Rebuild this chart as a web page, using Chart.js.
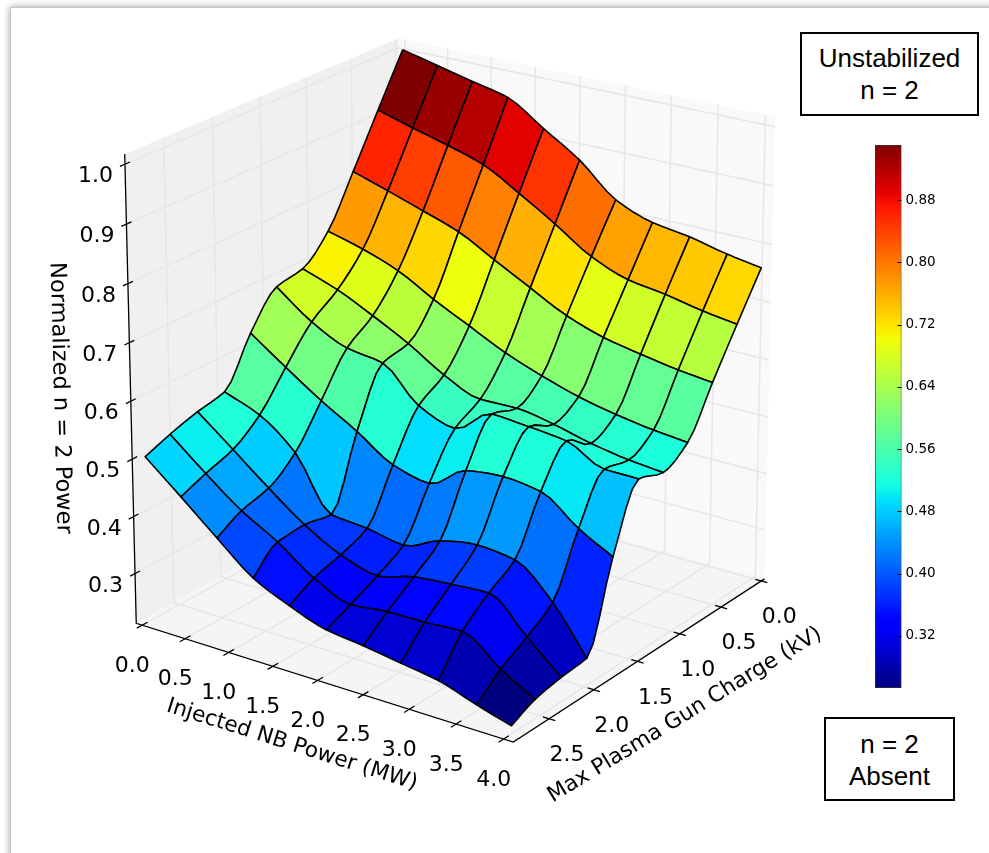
<!DOCTYPE html>
<html><head><meta charset="utf-8">
<script src="https://cdn.jsdelivr.net/npm/chart.js@4"></script>
<style>
html,body{margin:0;padding:0;background:#fff;width:989px;height:853px;overflow:hidden}
#frame{position:absolute;left:10px;top:7px;width:1000px;height:900px;background:#fff;border:1px solid #c4c4c4;box-shadow:0 0 7px rgba(0,0,0,.38)}
canvas{position:absolute;top:0}
#main{left:0}
#bar{left:875px}
.box{position:absolute;box-sizing:border-box;border:2px solid #000;background:#fff;font:26px/32px "Liberation Sans",sans-serif;color:#000;text-align:center}
</style></head><body>
<div id="frame"></div>
<canvas id="main" width="989" height="853"></canvas>
<canvas id="bar" width="114" height="853"></canvas>
<div class="box" style="left:800px;top:32px;width:179px;height:84px;padding-top:8px">Unstabilized<br>n = 2</div>
<div class="box" style="left:824px;top:717px;width:131px;height:84px;padding-top:9px">n = 2<br>Absent</div>
<script>
// ---- data ----
const nbPower = [0.025,0.430,0.835,1.240,1.644,2.049,2.454,2.859,3.264,3.669,4.033];
const gunCharge = [0.009,0.295,0.581,0.867,1.153,1.439,1.725,2.011,2.297,2.584,2.841];
const row0  = [1.003,.988,.973,.958,.917,.876,.821,.796,.786,.771,.761];
const row1  = [.915,.897,.880,.860,.824,.785,.743,.718,.708,.695,.686];
const row2  = [.826,.806,.785,.763,.729,.695,.662,.640,.627,.616,.609];
const row3  = [.741,.724,.701,.666,.635,.604,.580,.560,.546,.536,.530];
const row4  = [.696,.674,.644,.611,.572,.546,.547,.536,.520,.509,.503];
const row5  = [.686,.640,.610,.600,.542,.519,.561,.556,.549,.518,.517];
const row6  = [.627,.583,.541,.504,.463,.448,.488,.495,.487,.442,.410];
const row7  = [.547,.523,.474,.383,.377,.366,.392,.403,.396,.342,.264];
const row8  = [.536,.487,.437,.391,.357,.339,.356,.362,.366,.310,.259];
const row9  = [.521,.470,.423,.387,.343,.316,.323,.324,.328,.283,.250];
const row10 = [.504,.452,.399,.348,.319,.297,.289,.279,.269,.248,.231];
const xTicks = [0,0.5,1,1.5,2,2.5,3,3.5,4];
const yTicks = [0,0.5,1,1.5,2,2.5];
const zTicks = [0.3,0.4,0.5,0.6,0.7,0.8,0.9,1.0];
const barTicks = [0.32,0.40,0.48,0.56,0.64,0.72,0.80,0.88];
const xLabel = "Injected NB Power (MW)";
const yLabel = "Max Plasma Gun Charge (kV)";
const zLabel = "Normalized n = 2 Power";

// ---- 3D view ----
const Z = [row0,row1,row2,row3,row4,row5,row6,row7,row8,row9,row10];
const xa=-0.07,xb=4.1,ya=-0.04,yb=2.89,za=0.212,zb=1.017;
const P=[76.675410,-93.020960,-18.101115,403.69642,16.551130,34.204511,-543.81684,592.45451,-0.013068516,-0.024348344,-0.039128002];
const depth=(x,y,z)=>P[8]*x+P[9]*y+P[10]*z+1;
function proj(x,y,z){const w=depth(x,y,z);return{x:(P[0]*x+P[1]*y+P[2]*z+P[3])/w,y:(P[4]*x+P[5]*y+P[6]*z+P[7])/w};}

function jet(t){t=Math.max(0,Math.min(1,t));
 const seg=(s)=>{for(let i=1;i<s.length;i++)if(t<=s[i][0]){const a=s[i-1],b=s[i];return a[1]+(b[1]-a[1])*(t-a[0])/(b[0]-a[0]);}return s[s.length-1][1];};
 const r=seg([[0,0],[.35,0],[.66,1],[.89,1],[1,.5]]),g=seg([[0,0],[.125,0],[.375,1],[.64,1],[.91,0],[1,0]]),b=seg([[0,.5],[.11,1],[.34,1],[.65,0],[1,0]]);
 return `rgb(${Math.round(r*255)},${Math.round(g*255)},${Math.round(b*255)})`;}

// edge drawing: monotone tension on the height between grid knots
const SUB=4;
function tang(a,k){const n=a.length-1;if(k===0)return a[1]-a[0];if(k===n)return a[n]-a[n-1];
  const d0=a[k]-a[k-1],d1=a[k+1]-a[k];return d0*d1<=0?0:2*d0*d1/(d0+d1);}
function herm(a,k,t){const m0=tang(a,k),m1=tang(a,k+1),t2=t*t,t3=t2*t;return (2*t3-3*t2+1)*a[k]+(t3-2*t2+t)*m0+(-2*t3+3*t2)*a[k+1]+(t3-t2)*m1;}
const colOf=i=>Z.map(r=>r[i]);
function rowEdge(j,i0,i1){const out=[],k=Math.min(i0,i1);for(let s=0;s<SUB;s++){const t=i1>i0?s/SUB:1-s/SUB;
  out.push(proj(nbPower[k]+(nbPower[k+1]-nbPower[k])*t,gunCharge[j],herm(Z[j],k,t)));}return out;}
function colEdge(i,j0,j1){const out=[],k=Math.min(j0,j1),c=colOf(i);for(let s=0;s<SUB;s++){const t=j1>j0?s/SUB:1-s/SUB;
  out.push(proj(nbPower[i],gunCharge[k]+(gunCharge[k+1]-gunCharge[k])*t,herm(c,k,t)));}return out;}

const layers=[];
function poly(pts,fill){layers.push({data:pts,fill:'shape',backgroundColor:fill,borderColor:fill,borderWidth:0,pointRadius:0,tension:0});}
function line(pts,color,w){layers.push({data:pts,fill:false,borderColor:color,borderWidth:w,pointRadius:0,tension:0,borderCapStyle:'butt'});}
const P3=a=>a.map(p=>proj(p[0],p[1],p[2]));
// walls and floor
poly(P3([[xa,ya,za],[xa,yb,za],[xa,yb,zb],[xa,ya,zb],[xa,ya,za]]),'rgb(240,240,240)');
poly(P3([[xa,ya,za],[xb,ya,za],[xb,ya,zb],[xa,ya,zb],[xa,ya,za]]),'rgb(249,249,249)');
poly(P3([[xa,ya,za],[xb,ya,za],[xb,yb,za],[xa,yb,za],[xa,ya,za]]),'rgb(245,245,245)');
// grid
const GC='rgb(230,230,230)',GW=1.5;
xTicks.forEach(t=>{line(P3([[t,yb,za],[t,ya,za],[t,ya,zb]]),GC,GW);});
yTicks.forEach(t=>{line(P3([[xb,t,za],[xa,t,za],[xa,t,zb]]),GC,GW);});
zTicks.forEach(t=>{line(P3([[xa,yb,t],[xa,ya,t],[xb,ya,t]]),GC,GW);});
// axes
line(P3([[xa,yb,zb],[xa,yb,za],[xb,yb,za],[xb,ya,za]]),'#000',1.3);
xTicks.forEach(t=>line(P3([[t,yb+.055,za],[t,yb-.055,za]]),'#000',1.3));
yTicks.forEach(t=>line(P3([[xb+.065,t,za],[xb-.065,t,za]]),'#000',1.3));
zTicks.forEach(t=>line(P3([[xa,yb+.05,t],[xa,yb-.05,t]]),'#000',1.3));
// surface cells, far to near
const cells=[];let vmin=9,vmax=-9;
for(let j=0;j<10;j++)for(let i=0;i<10;i++){
  const avg=(Z[j][i]+Z[j][i+1]+Z[j+1][i]+Z[j+1][i+1])/4;vmin=Math.min(vmin,avg);vmax=Math.max(vmax,avg);
  const d=depth((nbPower[i]+nbPower[i+1])/2,(gunCharge[j]+gunCharge[j+1])/2,avg);cells.push({i,j,avg,d});}
cells.sort((a,b)=>b.d-a.d);
cells.forEach(c=>{const {i,j}=c;
  const pts=[...rowEdge(j,i,i+1),...colEdge(i+1,j,j+1),...rowEdge(j+1,i+1,i),...colEdge(i,j+1,j)];pts.push(pts[0]);
  const col=jet((c.avg-vmin)/(vmax-vmin));
  layers.push({data:pts,fill:'shape',backgroundColor:col,borderColor:'#000',borderWidth:1.6,borderJoinStyle:'round',pointRadius:0,tension:0});});

const texts={id:'texts',afterDraw(ch){const c=ch.ctx,sx=ch.scales.x,sy=ch.scales.y;c.save();c.fillStyle='#000';c.textAlign='center';c.textBaseline='middle';
  const at=(p,dx,dy)=>[sx.getPixelForValue(p.x)+dx,sy.getPixelForValue(p.y)+dy];
  c.font='22px "DejaVu Sans"';
  xTicks.forEach(t=>{const [u,v]=at(proj(t,yb,za),-10,41);c.fillText(t.toFixed(1),u,v);});
  yTicks.forEach(t=>{const [u,v]=at(proj(xb,t,za),18,36.5);c.fillText(t.toFixed(1),u,v);});
  zTicks.forEach(t=>{const [u,v]=at(proj(xa,yb,t),-29.5,12.5);c.fillText(t.toFixed(1),u,v);});
  const rot=(s,x,y,deg,sz)=>{c.save();c.font=sz+'px "DejaVu Sans"';c.translate(x,y);c.rotate(deg*Math.PI/180);c.fillText(s,0,0);c.restore();};
  rot(xLabel,292,745,17.5,21.7);rot(yLabel,685,715,-31.5,21.7);rot(zLabel,60,398,88.5,22.5);
  c.restore();}};

new Chart(document.getElementById('main'),{type:'line',data:{datasets:layers.slice().reverse()},
 options:{responsive:false,animation:false,events:[],parsing:{xAxisKey:'x',yAxisKey:'y'},layout:{padding:0},
  scales:{x:{type:'linear',min:0,max:989,display:false},y:{type:'linear',min:0,max:853,reverse:true,display:false}},
  plugins:{legend:{display:false},tooltip:{enabled:false},title:{display:false},filler:{propagate:false,drawTime:'beforeDatasetDraw'}},
  datasets:{line:{clip:false,spanGaps:true}}},plugins:[texts]});

// colour bar
const inward={id:'inward',afterDatasetsDraw(ch){const c=ch.ctx,s=ch.scales.y,a=ch.chartArea;c.save();c.strokeStyle='#000';c.lineWidth=1;
  barTicks.forEach(t=>{const y=Math.round(s.getPixelForValue(t))+.5;c.beginPath();c.moveTo(a.right-4,y);c.lineTo(a.right,y);c.stroke();});c.restore();}};
new Chart(document.getElementById('bar'),{type:'bar',data:{labels:['n = 2'],datasets:[{data:[[vmin,vmax]],barPercentage:1,categoryPercentage:1,borderColor:'#333',borderWidth:1,borderSkipped:false,
   backgroundColor(ctx){const a=ctx.chart.chartArea;if(!a)return '#000';const g=ctx.chart.ctx.createLinearGradient(0,a.bottom,0,a.top);for(let k=0;k<=64;k++)g.addColorStop(k/64,jet(k/64));return g;}}]},
 options:{responsive:false,animation:false,events:[],layout:{padding:{top:145,bottom:165,left:0,right:0}},
  scales:{x:{display:false},y:{position:'right',min:vmin,max:vmax,border:{display:false},grid:{display:false},
    afterBuildTicks(s){s.ticks=barTicks.map(v=>({value:v}));},afterFit(s){s.width=87.5;},
    ticks:{color:'#000',padding:-4,font:{family:'"DejaVu Sans"',size:13.5},callback:v=>v.toFixed(2)}}},
  plugins:{legend:{display:false},tooltip:{enabled:false}}},plugins:[inward]});
</script></body></html>
